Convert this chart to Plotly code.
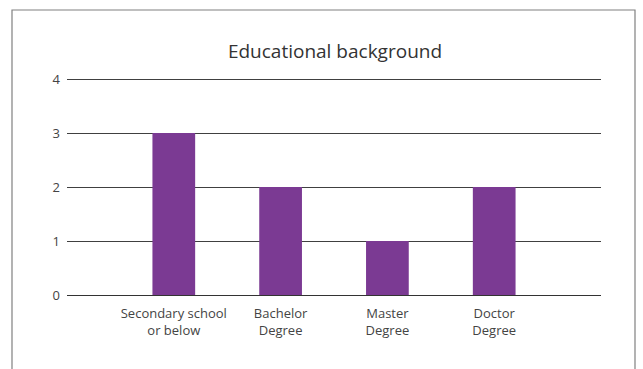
import plotly.graph_objects as go

categories = ["Secondary school<br>or below", "Bachelor<br>Degree", "Master<br>Degree", "Doctor<br>Degree"]
positions = [1, 2, 3, 4]
values = [3, 2, 1, 2]
y_ticks = [0, 1, 2, 3, 4]

W, H = 643, 369
L, R, T, B = 67, 42, 76, 74
pw, ph = W - L - R, H - T - B
y_top = 4 + 3 / 54.0

def px_x(x):
    return (x - L) / pw

def px_y(y):
    return (H - B - y) / ph

fig = go.Figure(go.Bar(
    x=positions, y=values, width=0.4,
    marker=dict(color="#7B3A93", line=dict(width=0)),
    hoverinfo="skip",
))

fig.update_layout(
    width=W, height=H,
    margin=dict(l=L, r=R, t=T, b=B),
    paper_bgcolor="white", plot_bgcolor="white",
    font=dict(family="Open Sans, Noto Sans, sans-serif", color="#444444", size=13),
    showlegend=False,
    title=dict(text="Educational background", x=px_x(335), xref="paper", xanchor="center",
               y=1 - 51 / H, yanchor="middle", yref="container",
               font=dict(size=19, color="#333333")),
    xaxis=dict(range=[0, 5], tickmode="array", tickvals=positions, ticktext=categories,
               showgrid=False, zeroline=False, showline=False, ticks="",
               ticklabelstandoff=9,
               tickfont=dict(size=13, color="#444444")),
    yaxis=dict(range=[0, y_top], tickmode="array", tickvals=y_ticks, showgrid=True,
               gridcolor="#404040", gridwidth=1, zeroline=True, zerolinecolor="#333333",
               zerolinewidth=1, showline=False, ticks="", ticklabelstandoff=6,
               tickfont=dict(size=13, color="#444444")),
    shapes=[dict(type="rect", xref="paper", yref="paper",
                 x0=px_x(12), x1=px_x(635), y0=px_y(H + 20), y1=px_y(10),
                 line=dict(color="#808080", width=1.2), fillcolor="rgba(0,0,0,0)",
                 layer="below")],
)

fig.write_html("out.html")
